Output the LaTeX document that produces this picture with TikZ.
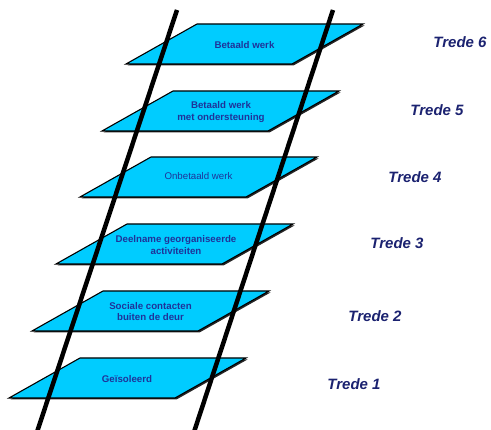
\documentclass[tikz,border=0pt]{standalone}
\usepackage{fontspec}
\setmainfont{Liberation Sans}
\definecolor{platfill}{HTML}{00CCFF}
\definecolor{plattext}{HTML}{1F3399}
\definecolor{tredetext}{HTML}{1B2270}
\begin{document}
\begin{tikzpicture}[x=1pt,y=-1pt,
  platform/.style={fill=platfill,draw=black,line width=1.1pt,line join=miter},
  platshadow/.style={fill=black!85},
  plabel/.style={text=plattext,font=\fontsize{9.7}{11.5}\selectfont\bfseries,align=center,inner sep=0pt},
  plabelreg/.style={text=plattext,font=\fontsize{9.7}{11.5}\selectfont,align=center,inner sep=0pt},
  trede/.style={text=tredetext,font=\fontsize{15}{17}\selectfont\bfseries\itshape,inner sep=0pt},
  rail/.style={line width=4.5pt,black}]
\useasboundingbox (0,0) rectangle (491,430);
% platforms: top-left corners
\foreach \tx/\ty in {197/24,173/91,151/157,127/224,103/291,80/358}{
  \fill[platshadow] (\tx+1.5,\ty+1.5) -- (\tx+167.5,\ty+1.5) -- (\tx+96.5,\ty+41.5) -- (\tx-69.5,\ty+41.5) -- cycle;
  \draw[platform] (\tx,\ty) -- (\tx+166,\ty) -- (\tx+95,\ty+40) -- (\tx-71,\ty+40) -- cycle;
}
% rails
\coordinate (lt) at (177,10);
\coordinate (lb) at (37,432);
\coordinate (rt) at (333,10);
\coordinate (rb) at (194,432);
\draw[rail] (lt) -- (lb);
\draw[rail] (rt) -- (rb);
% platform labels
\node[plabel] (p6) at (244.5,45) {Betaald werk};
\node[plabel] (p5) at (221,112) {Betaald werk\\met ondersteuning};
\node[plabelreg] (p4) at (198.5,176) {Onbetaald werk};
\node[plabel] (p3) at (176,245) {Deelname georganiseerde\\activiteiten};
\node[plabel] (p2) at (150.5,311.5) {Sociale contacten\\buiten de deur};
\node[plabel] (p1) at (127,379) {Geïsoleerd};
% trede labels
\node[trede] (t6) at (460,42) {Trede 6};
\node[trede] (t5) at (437,110) {Trede 5};
\node[trede] (t4) at (415,177) {Trede 4};
\node[trede] (t3) at (397,243) {Trede 3};
\node[trede] (t2) at (375,316) {Trede 2};
\node[trede] (t1) at (354,384) {Trede 1};
\end{tikzpicture}
\end{document}
